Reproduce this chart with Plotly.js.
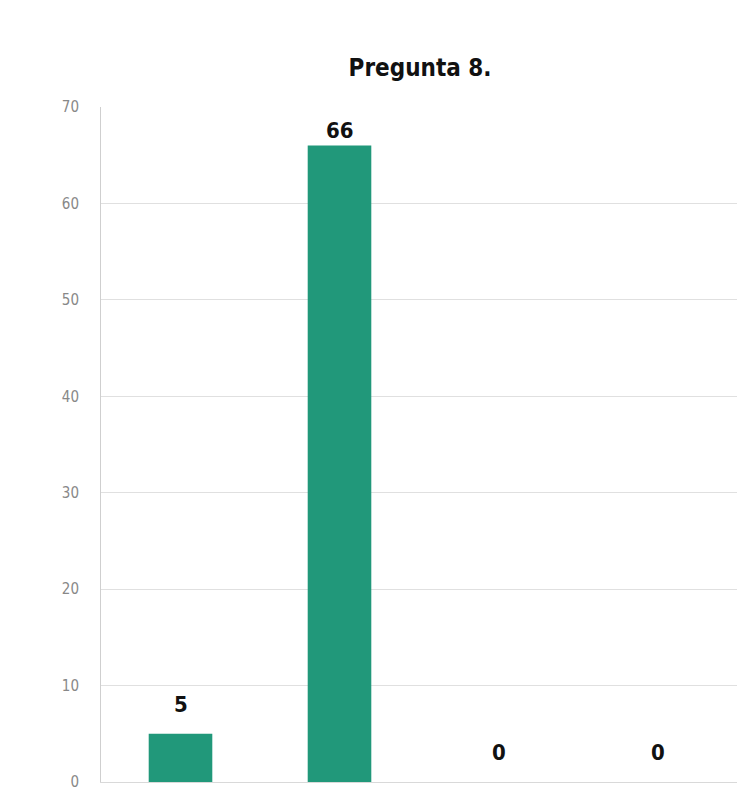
<!DOCTYPE html>
<html>
<head>
<meta charset="utf-8">
<script src="https://cdn.plot.ly/plotly-3.0.1.min.js"></script>
<style>html,body{margin:0;padding:0;background:#fff;}#chart{width:737px;height:790px;}</style>
</head>
<body>
<div id="chart"></div>
<script>
const categories = ["A", "B", "C", "D"];
const values = [5, 66, 0, 0];
const yTicks = [0, 10, 20, 30, 40, 50, 60, 70];
const chartTitle = "Pregunta 8.";

const labelFont = {family: "'Liberation Sans Narrow', 'DejaVu Sans Condensed', Arial Narrow, sans-serif", size: 22, color: "#111"};

const annotations = values.map((v, i) => ({
  x: categories[i], y: v, xref: "x", yref: "y",
  text: "<b>" + v + "</b>", showarrow: false,
  yanchor: "bottom", yshift: v > 60 ? 1 : 15,
  font: labelFont
}));

Plotly.newPlot("chart", [{
  type: "bar",
  x: categories,
  y: values,
  marker: {color: "#21987A"},
  hoverinfo: "none"
}], {
  width: 737, height: 790,
  margin: {l: 101, r: 0, t: 107, b: 8},
  paper_bgcolor: "#fff", plot_bgcolor: "#fff",
  bargap: 0.6,
  title: {text: "<b>" + chartTitle + "</b>", x: 0.57, xanchor: "center", y: 0.915, yanchor: "middle",
          font: {family: labelFont.family, size: 24, color: "#111"}},
  xaxis: {range: [-0.5, 3.5], showticklabels: false, showgrid: false, zeroline: false,
          showline: true, linecolor: "#d9d9d9", linewidth: 1, ticks: ""},
  yaxis: {range: [0, 70], tickvals: yTicks, ticktext: yTicks.map(String),
          showgrid: true, gridcolor: "#e0e0e0", gridwidth: 1, zeroline: false,
          showline: true, linecolor: "#cfcfcf", linewidth: 1,
          ticks: "", ticklabelstandoff: 18, ticklabeloverflow: "allow",
          tickfont: {family: "'Liberation Sans Narrow', 'DejaVu Sans Condensed', sans-serif", size: 15, color: "#888"}},
  annotations: annotations,
  showlegend: false
}, {displayModeBar: false, staticPlot: true});
</script>
</body>
</html>
